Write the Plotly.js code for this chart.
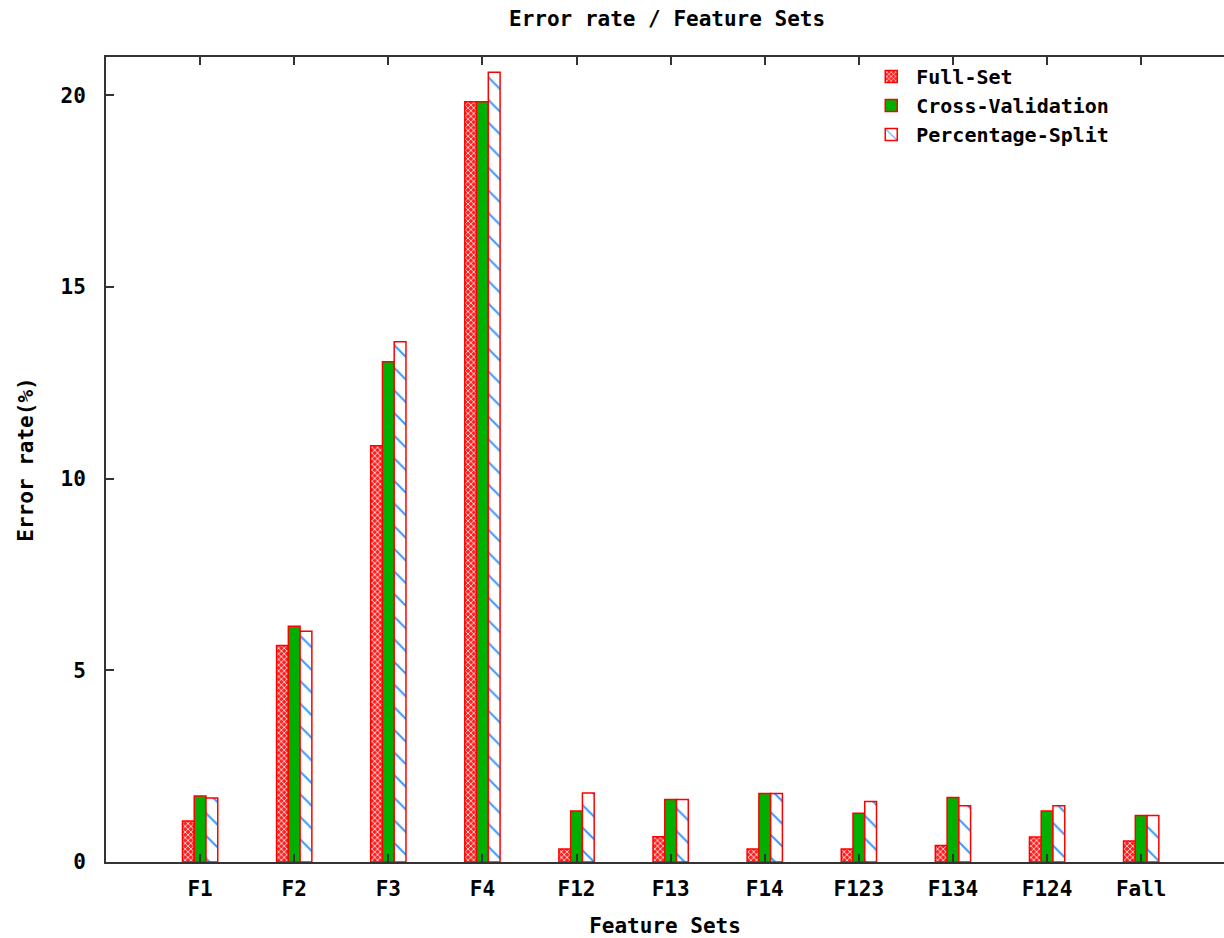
<!DOCTYPE html>
<html>
<head>
<meta charset="utf-8">
<script src="https://cdn.plot.ly/plotly-3.0.1.min.js"></script>
<style>html,body{margin:0;padding:0;background:#fff;}#chart{width:1224px;height:938px;}</style>
</head>
<body>
<div id="chart"></div>
<script>
const categories = ["F1","F2","F3","F4","F12","F13","F14","F123","F134","F124","Fall"];
const seriesNames = ["Full-Set","Cross-Validation","Percentage-Split"];
const fullSet = [1.07, 5.65, 10.86, 19.83, 0.34, 0.66, 0.34, 0.34, 0.43, 0.65, 0.55];
const crossValidation = [1.72, 6.15, 13.05, 19.83, 1.33, 1.63, 1.79, 1.27, 1.68, 1.33, 1.21];
const percentageSplit = [1.67, 6.02, 13.57, 20.6, 1.80, 1.63, 1.79, 1.58, 1.47, 1.47, 1.21];
const yTicks = [0, 5, 10, 15, 20];

const FONT = "DejaVu Sans Mono, Liberation Mono, monospace";
const lineStyle = {color: "#ff0000", width: 1.5};

const traces = [
  {
    type: "bar", name: seriesNames[0], x: categories, y: fullSet,
    marker: {color: "#ff2020", line: lineStyle,
      pattern: {shape: "x", bgcolor: "#ff2020", fgcolor: "#ffffff", size: 4, solidity: 0.35}}
  },
  {
    type: "bar", name: seriesNames[1], x: categories, y: crossValidation,
    marker: {color: "#00b000", line: lineStyle}
  },
  {
    type: "bar", name: seriesNames[2], x: categories, y: percentageSplit,
    marker: {color: "#ffffff", line: lineStyle,
      pattern: {shape: "\\", bgcolor: "#ffffff", fgcolor: "#3399ff", size: 16, solidity: 0.12}}
  }
];

const axisFont = {family: FONT, size: 21, color: "#000", weight: "bold"};
const legendFont = {family: FONT, size: 20, color: "#000", weight: "bold"};

const layout = {
  width: 1224, height: 938,
  paper_bgcolor: "#fff", plot_bgcolor: "#fff",
  margin: {l: 106, r: 0, t: 57, b: 76, pad: 0},
  barmode: "group", bargap: 0.625, bargroupgap: 0,
  showlegend: true,
  title: {text: "Error rate / Feature Sets", x: 0.545, xanchor: "center", y: 0.98, yanchor: "middle",
    font: {family: FONT, size: 21, color: "#000", weight: "bold"}},
  xaxis: {
    type: "category", range: [-1, 10.88],
    showline: true, linecolor: "#333", linewidth: 2, mirror: "ticks",
    ticks: "inside", ticklen: 8, tickcolor: "#333", tickwidth: 2,
    showgrid: false, zeroline: false,
    tickfont: axisFont, ticklabelstandoff: 7,
    title: {text: "Feature Sets", font: axisFont, standoff: 23}
  },
  yaxis: {
    range: [0, 21], tickvals: yTicks, ticktext: yTicks.map(String),
    showline: true, linecolor: "#333", linewidth: 2, mirror: false,
    ticks: "inside", ticklen: 8, tickcolor: "#333", tickwidth: 2,
    showgrid: false, zeroline: false,
    tickfont: axisFont, ticklabelstandoff: 14,
    title: {text: "Error rate(%)", font: axisFont, standoff: 21}
  },
  legend: {
    x: 0.68, y: 1.0, xanchor: "left", yanchor: "top",
    bgcolor: "rgba(0,0,0,0)", font: legendFont, traceorder: "normal",
    itemwidth: 40, tracegroupgap: 0
  }
};

Plotly.newPlot("chart", traces, layout, {displayModeBar: false, staticPlot: true});
</script>
</body>
</html>
